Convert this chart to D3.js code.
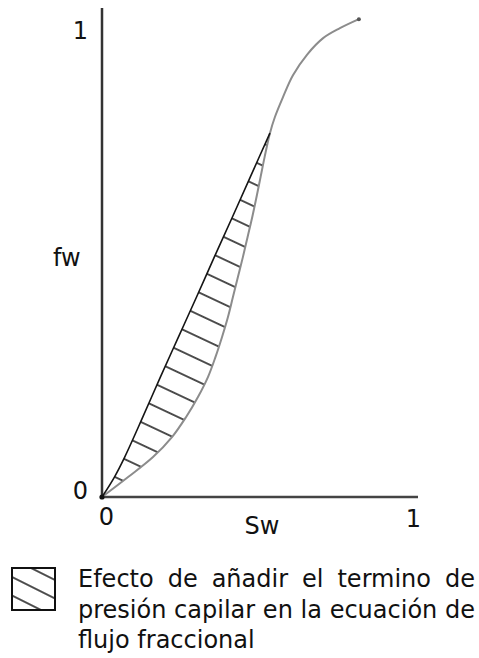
<!DOCTYPE html>
<html><head><meta charset="utf-8">
<script src="https://cdn.jsdelivr.net/npm/d3@7"></script>
<style>
body{margin:0;background:#fff}
svg{display:block}
text{font-family:"DejaVu Sans",sans-serif;fill:#111}
</style>
</head><body>
<svg id="chart" width="479" height="658"></svg>
<script>
// ---- data ----
const xTicks = [0, 1];
const yTicks = [0, 1];
const xLabel = "Sw";
const yLabel = "fw";
const legendLines = ["Efecto de añadir el termino de", "presión capilar en la ecuación de", "flujo fraccional"];

// fractional flow curve (without capillary pressure)
const swCurve = [0, 0.084, 0.164, 0.225, 0.270, 0.309, 0.341, 0.365, 0.386, 0.405, 0.421, 0.437, 0.453, 0.468, 0.483, 0.497, 0.510, 0.523, 0.540, 0.556, 0.582, 0.614, 0.659, 0.711, 0.765, 0.826];
const fwCurve = [0, 0.042, 0.084, 0.126, 0.168, 0.211, 0.253, 0.295, 0.337, 0.379, 0.421, 0.463, 0.505, 0.547, 0.589, 0.632, 0.674, 0.716, 0.766, 0.800, 0.842, 0.888, 0.931, 0.966, 0.987, 1.006];

// curve with capillary pressure term
const swCap = [0, 0.040, 0.073, 0.131, 0.188, 0.246, 0.304, 0.361, 0.419, 0.477, 0.540];
const fwCap = [0, 0.042, 0.084, 0.168, 0.253, 0.337, 0.421, 0.505, 0.589, 0.674, 0.766];

// ---- drawing ----
const svg = d3.select("#chart");
const x = d3.scaleLinear().domain([0, 1]).range([102, 413]);
const y = d3.scaleLinear().domain([0, 1]).range([497, 22]);

const curvePts = swCurve.map((s, i) => [s, fwCurve[i]]);
const capPts = swCap.map((s, i) => [s, fwCap[i]]);
const swJoin = swCap[swCap.length - 1];

const defs = svg.append("defs");
function hatchPattern(id, vSpacing, slope, ax, ay, sw) {
  const ang = Math.atan(slope);
  const p = vSpacing * Math.cos(ang);
  const pat = defs.append("pattern").attr("id", id)
    .attr("patternUnits", "userSpaceOnUse")
    .attr("width", 40).attr("height", p)
    .attr("patternTransform", `translate(${ax},${ay}) rotate(${ang * 180 / Math.PI})`);
  pat.append("path").attr("d", `M-1,0H41M-1,${p}H41`)
    .attr("stroke", "#111").attr("stroke-width", sw).attr("fill", "none");
}
hatchPattern("hatch", 22.4, 0.47, 115, 477, 1.5);
hatchPattern("hatchLeg", 18.5, 0.5, 12, 577, 1.6);

const lineGen = d3.line().x(d => x(d[0])).y(d => y(d[1])).curve(d3.curveCatmullRom.alpha(0.5));

// hatched region between the two curves
const regionPath = lineGen(capPts) + "L" + lineGen(curvePts.filter(d => d[0] <= swJoin).reverse()).slice(1) + "Z";
svg.append("path").attr("d", regionPath)
  .attr("fill", "url(#hatch)").attr("stroke", "none");

// axes lines
svg.append("line").attr("x1", x(0)).attr("x2", x(0)).attr("y1", y(0)).attr("y2", 8)
  .attr("stroke", "#333").attr("stroke-width", 2.5);
svg.append("line").attr("x1", x(0)).attr("x2", 418).attr("y1", y(0)).attr("y2", y(0))
  .attr("stroke", "#444").attr("stroke-width", 2.5);

svg.append("path").attr("d", lineGen(curvePts))
  .attr("fill", "none").attr("stroke", "#8c8c8c").attr("stroke-width", 2);
svg.append("path").attr("d", lineGen(capPts))
  .attr("fill", "none").attr("stroke", "#151515").attr("stroke-width", 1.6);

const last = curvePts[curvePts.length - 1];
svg.append("circle").attr("cx", x(last[0])).attr("cy", y(last[1])).attr("r", 2).attr("fill", "#555");
svg.append("circle").attr("cx", x(0)).attr("cy", y(0)).attr("r", 2.6).attr("fill", "#111");

// tick labels via d3 axes
const fs = 24;
const gx = svg.append("g").attr("transform", `translate(0,${y(0)})`)
  .call(d3.axisBottom(x).tickValues(xTicks).tickSize(0).tickFormat(d3.format("d")));
gx.select(".domain").remove();
gx.selectAll("text").attr("y", d => d === 0 ? 28 : 30).attr("dy", 0)
  .attr("dx", d => d === 0 ? 4 : 0)
  .style("font-family", '"DejaVu Sans",sans-serif').style("font-size", fs + "px").attr("fill", "#111");

const gy = svg.append("g").attr("transform", `translate(${x(0)},0)`)
  .call(d3.axisLeft(y).tickValues(yTicks).tickSize(0).tickFormat(d3.format("d")));
gy.select(".domain").remove();
gy.selectAll("text").attr("x", -14).attr("dy", d => d === 0 ? "1px" : "16px")
  .style("font-family", '"DejaVu Sans",sans-serif').style("font-size", fs + "px").attr("fill", "#111");

svg.append("text").attr("x", 262).attr("y", 534).attr("text-anchor", "middle")
  .style("font-size", fs + "px").text(xLabel);
svg.append("text").attr("x", 53).attr("y", 266)
  .style("font-size", fs + "px").text(yLabel);

// legend
svg.append("rect").attr("x", 12).attr("y", 568).attr("width", 43).attr("height", 42)
  .attr("fill", "url(#hatchLeg)").attr("stroke", "#111").attr("stroke-width", 2);

const lx0 = 78, lx1 = 475, baselines = [587, 618, 648];
legendLines.forEach((ln, i) => {
  const words = ln.split(" ");
  if (i === legendLines.length - 1) {
    svg.append("text").attr("x", lx0).attr("y", baselines[i]).style("font-size", fs + "px").text(ln);
    return;
  }
  const nodes = words.map(w => svg.append("text").attr("y", baselines[i]).style("font-size", fs + "px").text(w));
  const widths = nodes.map(n => n.node().getComputedTextLength());
  const gap = (lx1 - lx0 - d3.sum(widths)) / (words.length - 1);
  let cx = lx0;
  nodes.forEach((n, j) => { n.attr("x", cx); cx += widths[j] + gap; });
});
</script>
</body></html>
